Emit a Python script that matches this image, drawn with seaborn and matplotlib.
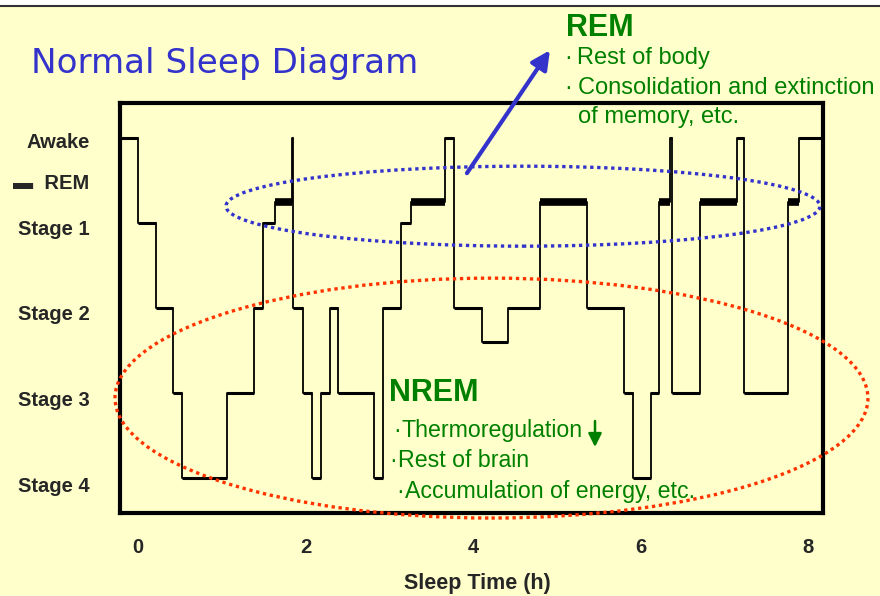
import matplotlib
matplotlib.use("Agg")
import matplotlib.pyplot as plt
from matplotlib.patches import Ellipse, Rectangle, FancyArrowPatch
from matplotlib.lines import Line2D
import seaborn as sns
import pandas as pd

# ---------------- data ----------------
# hypnogram: stage entered at each time (hours), steps-post
TIME = [-0.215, 0.0, 0.215, 0.418, 0.525, 1.063, 1.385, 1.493, 1.636, 1.839,
        1.851, 1.970, 2.078, 2.185, 2.293, 2.388, 2.818, 2.925, 3.140, 3.260,
        3.666, 3.773, 4.107, 4.418, 4.800, 5.361, 5.803, 5.910, 6.125, 6.221,
        6.352, 6.376, 6.710, 7.152, 7.236, 7.761, 7.893, 8.180]
STAGE = ["Awake", "S1", "S2", "S3", "S4", "S3", "S2", "S1", "REM", "Awake",
         "S2", "S3", "S4", "S3", "S2", "S3", "S4", "S2", "S1", "REM",
         "Awake", "S2", "S2-3", "S2", "REM", "S2", "S3", "S4", "S3", "REM",
         "Awake", "S3", "REM", "Awake", "S3", "REM", "Awake", "Awake"]
STAGE_LEVEL = {"Awake": 5.0, "REM": 4.245, "S1": 4.0, "S2": 3.0,
               "S2-3": 2.6, "S3": 2.0, "S4": 1.0}

YTICK_LABELS = ["Awake", "\u25ac  REM", "Stage 1", "Stage 2", "Stage 3", "Stage 4"]
YTICK_POS = [4.97, 4.49, 3.95, 2.95, 1.94, 0.93]
XTICKS = [0, 2, 4, 6, 8]

TITLE = "Normal Sleep Diagram"
XLABEL = "Sleep Time (h)"
REM_HEAD = "REM"
REM_ITEMS = ["Rest of body", "Consolidation and extinction", "of memory, etc."]
NREM_HEAD = "NREM"
NREM_ITEMS = ["Thermoregulation", "Rest of brain", "Accumulation of energy, etc."]

# ---------------- style ----------------
BG = "#FFFFCC"
BLUE = "#3333CC"
RED = "#FF3300"
GREEN = "#008000"
W, H = 880, 596

sns.set_style("white", {"axes.facecolor": BG, "figure.facecolor": BG})
plt.rcParams["font.family"] = ["Liberation Sans", "DejaVu Sans"]

fig = plt.figure(figsize=(W / 100, H / 100), dpi=100, facecolor=BG)
ax = fig.add_axes([120 / W, 1 - 513 / H, 703 / W, 410 / H])
ax.set_facecolor(BG)

df = pd.DataFrame({"t": TIME, "level": [STAGE_LEVEL[s] for s in STAGE]})
sns.lineplot(data=df, x="t", y="level", drawstyle="steps-post", estimator=None,
             sort=False, color="black", lw=1.3, ax=ax)

# horizontal plateaus (thicker) and REM bars
for i in range(len(TIME) - 1):
    lvl = STAGE_LEVEL[STAGE[i]]
    if STAGE[i] == "REM":
        ax.hlines(lvl, TIME[i], TIME[i + 1], color="black", lw=5.5, zorder=3)
    else:
        ax.hlines(lvl, TIME[i], TIME[i + 1], color="black", lw=2.2, zorder=3)

ax.set_xlim(-0.215, 8.18)
ax.set_ylim(0.59, 5.41)
ax.set_xticks(XTICKS)
ax.set_xticklabels([str(v) for v in XTICKS], fontsize=14.5, fontweight="bold")
ax.set_yticks(YTICK_POS)
ax.set_yticklabels(YTICK_LABELS, fontsize=14.5, fontweight="bold")
ax.tick_params(axis="y", length=0, pad=22)
ax.tick_params(axis="x", length=0, pad=18)
ax.set_ylabel("")
ax.set_xlabel(XLABEL, fontsize=15.5, fontweight="bold")
ax.xaxis.set_label_coords((477 - 120) / 703, (513 - 573) / 410)
for sp in ax.spines.values():
    sp.set_visible(True)
    sp.set_color("black")
    sp.set_linewidth(3)

# ellipses
ax.add_patch(Ellipse((4.221, 1.941), 8.991, 2.820, fill=False, ec=RED, lw=2.4,
                     linestyle=(0, (1, 1.1)), clip_on=False, zorder=5))
ax.add_patch(Ellipse((4.597, 4.197), 7.092, 0.940, fill=False, ec=BLUE, lw=2.4,
                     linestyle=(0, (1, 1.1)), clip_on=False, zorder=5))

# blue arrow
ax.annotate("", xy=(4.919, 6.03), xytext=(3.928, 4.585), annotation_clip=False,
            arrowprops=dict(arrowstyle="-|>", color=BLUE, lw=3, mutation_scale=28,
                            shrinkA=0, shrinkB=0), zorder=6)

# top border
fig.patches.append(Rectangle((0, 1 - 5 / H), 1, 5 / H, transform=fig.transFigure,
                             color="white", zorder=0))
fig.lines.append(Line2D([0, 1], [1 - 5.5 / H, 1 - 5.5 / H], transform=fig.transFigure,
                        color="#333333", lw=1.5))


def ftext(x, y, s, **kw):
    fig.text(x / W, 1 - y / H, s, va="baseline", ha="left", **kw)


ftext(31, 73, TITLE, color=BLUE, fontsize=24.6, family="DejaVu Sans")

ftext(566, 36, REM_HEAD, color=GREEN, fontsize=22, fontweight="bold")
ftext(564, 64, "\u00b7", color=GREEN, fontsize=17)
ftext(577, 64, REM_ITEMS[0], color=GREEN, fontsize=17)
ftext(564, 94, "\u00b7", color=GREEN, fontsize=17)
ftext(578, 94, REM_ITEMS[1], color=GREEN, fontsize=17)
ftext(578, 123, REM_ITEMS[2], color=GREEN, fontsize=17)

ftext(389, 401, NREM_HEAD, color=GREEN, fontsize=22, fontweight="bold")
ftext(393, 437, "\u00b7", color=GREEN, fontsize=17)
ftext(401, 437, NREM_ITEMS[0], color=GREEN, fontsize=16.7)
ftext(389, 467, "\u00b7", color=GREEN, fontsize=17)
ftext(398, 467, NREM_ITEMS[1], color=GREEN, fontsize=16.7)
ftext(396, 498, "\u00b7", color=GREEN, fontsize=17)
ftext(405, 498, NREM_ITEMS[2], color=GREEN, fontsize=16.7)

# small green down arrow after "Thermoregulation"
fig.add_artist(FancyArrowPatch(
    (595 / W, 1 - 421 / H), (595 / W, 1 - 447 / H), transform=fig.transFigure,
    arrowstyle="-|>", color=GREEN, lw=1.8, mutation_scale=20,
    shrinkA=0, shrinkB=0))

fig.savefig("out.png", dpi=100, facecolor=BG)
